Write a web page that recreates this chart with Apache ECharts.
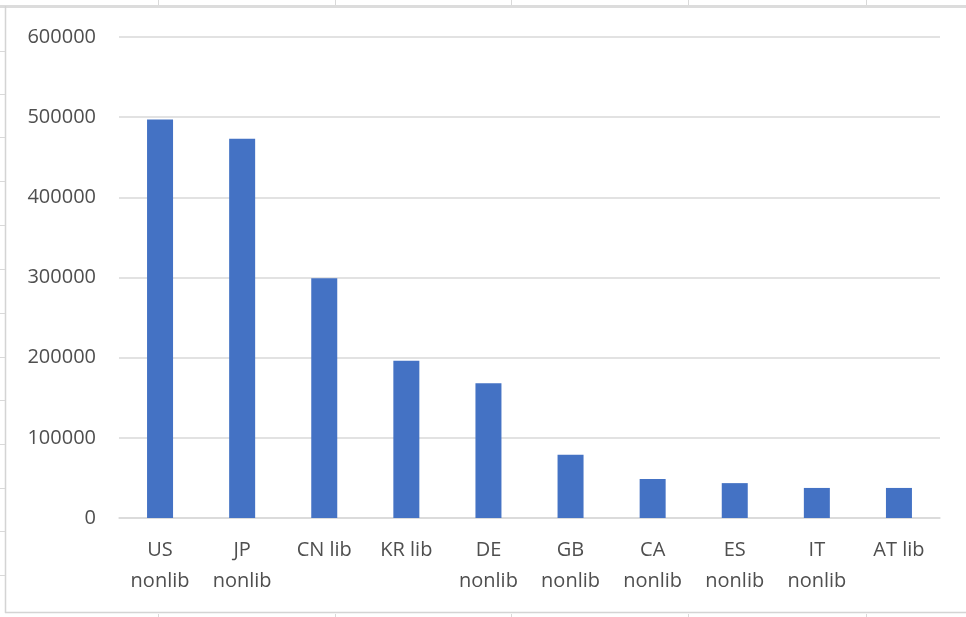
<!DOCTYPE html>
<html>
<head>
<meta charset="utf-8">
<script src="https://cdn.jsdelivr.net/npm/echarts@6/dist/echarts.min.js"></script>
<style>
  html, body { margin: 0; padding: 0; background: #ffffff; }
  #chart { width: 966px; height: 617px; }
</style>
</head>
<body>
<div id="chart"></div>
<script>
// Category labels (line breaks as they wrap under each bar)
const categories = [
  'US\nnonlib', 'JP\nnonlib', 'CN lib', 'KR lib', 'DE\nnonlib',
  'GB\nnonlib', 'CA\nnonlib', 'ES\nnonlib', 'IT\nnonlib', 'AT lib'
];
// Totals per country
const values = [497000, 473000, 299000, 196000, 168000, 79000, 48500, 43500, 37500, 37500];
// Value axis range
const yMin = 0;
const yMax = 600000;
const yStep = 100000;

// Surrounding worksheet cell lines
const sheetColLines = [158, 335, 511, 688, 866];
const sheetRowLines = [51, 94, 137, 181, 225, 269, 313, 357, 400, 444, 488, 531, 575];
const cellLine = '#d9d9d9';

const graphics = [];
// frame of the chart object
graphics.push({ type: 'rect', shape: { x: 0, y: 5, width: 966, height: 3 }, style: { fill: '#dcdcdc' }, silent: true });
graphics.push({ type: 'line', shape: { x1: 5.5, y1: 6, x2: 5.5, y2: 613 }, style: { stroke: '#d4d4d4', lineWidth: 1.5 }, silent: true });
graphics.push({ type: 'line', shape: { x1: 5, y1: 612.5, x2: 966, y2: 612.5 }, style: { stroke: '#d4d4d4', lineWidth: 1.5 }, silent: true });
sheetColLines.forEach(function (x) {
  graphics.push({ type: 'line', shape: { x1: x + 0.5, y1: 0, x2: x + 0.5, y2: 5 }, style: { stroke: cellLine, lineWidth: 1 }, silent: true });
  graphics.push({ type: 'line', shape: { x1: x + 0.5, y1: 614, x2: x + 0.5, y2: 617 }, style: { stroke: cellLine, lineWidth: 1 }, silent: true });
});
sheetRowLines.forEach(function (y) {
  graphics.push({ type: 'line', shape: { x1: 0, y1: y + 0.5, x2: 5, y2: y + 0.5 }, style: { stroke: cellLine, lineWidth: 1 }, silent: true });
});

const chart = echarts.init(document.getElementById('chart'), null, { renderer: 'canvas' });
chart.setOption({
  animation: false,
  backgroundColor: '#ffffff',
  textStyle: { fontFamily: 'Open Sans' },
  grid: { left: 119, right: 26, top: 37, bottom: 99, containLabel: false },
  xAxis: {
    type: 'category',
    data: categories,
    axisLine: { show: true, lineStyle: { color: '#d9d9d9', width: 1.5 } },
    axisTick: { show: false },
    axisLabel: {
      interval: 0,
      margin: 17,
      color: '#4f4f4f',
      fontSize: 20,
      lineHeight: 31,
      fontFamily: 'Open Sans'
    }
  },
  yAxis: {
    type: 'value',
    min: yMin,
    max: yMax,
    interval: yStep,
    axisLine: { show: false },
    axisTick: { show: false },
    splitLine: { lineStyle: { color: '#d9d9d9', width: 1.5 } },
    axisLabel: {
      margin: 23,
      color: '#4f4f4f',
      fontSize: 20,
      fontFamily: 'Open Sans',
      formatter: function (v) { return String(v); }
    }
  },
  series: [{
    type: 'bar',
    data: values,
    barWidth: 26,
    itemStyle: { color: '#4472C4' }
  }],
  graphic: graphics
});
</script>
</body>
</html>
